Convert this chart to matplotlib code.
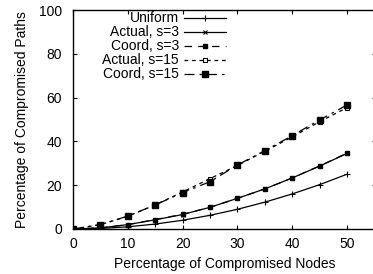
import matplotlib
matplotlib.use('Agg')
import matplotlib.pyplot as plt

plt.rcParams['font.family'] = ['Liberation Sans', 'DejaVu Sans']

nodes = [0, 5, 10, 15, 20, 25, 30, 35, 40, 45, 50]
uniform = [0, 0.25, 1, 2.25, 4, 6.25, 9, 12.25, 16, 20.25, 25]
actual_s3 = [0, 0.5, 2.0, 4.2, 6.6, 9.9, 14.0, 18.3, 23.3, 28.7, 34.5]
coord_s3 = [0, 0.5, 2.0, 4.3, 6.7, 9.9, 14.0, 18.3, 23.3, 28.8, 34.6]
actual_s15 = [0, 2.0, 5.8, 11.0, 16.9, 23.0, 29.0, 35.5, 42.0, 49.0, 55.4]
coord_s15 = [0, 2.0, 5.9, 11.0, 16.6, 21.6, 29.2, 35.8, 42.6, 49.8, 56.6]

fig = plt.figure(figsize=(3.73, 2.74), dpi=100)
ax = fig.add_axes([73 / 373, 45 / 274, 303 / 373, 219 / 274])

ax.plot(nodes, uniform, color='black', lw=0.9, marker='+', ms=4, mew=0.8, label='Uniform')
ax.plot(nodes, actual_s3, color='black', lw=0.9, marker='x', ms=3, mew=0.8, label='Actual, s=3')
ax.plot(nodes, coord_s3, color='black', lw=0.9, dashes=(6, 5), marker='s', ms=2.5, label='Coord, s=3')
ax.plot(nodes, actual_s15, color='black', lw=0.9, dashes=(3, 3), marker='s', ms=3.5,
        mfc='white', mew=0.8, label='Actual, s=15')
ax.plot(nodes, coord_s15, color='black', lw=0.9, dashes=(8, 4, 2, 4), marker='s', ms=4,
        label='Coord, s=15')

ax.set_xlim(0, 55.3)
ax.set_ylim(0, 100)
ax.set_xticks([0, 10, 20, 30, 40, 50])
ax.set_yticks([0, 20, 40, 60, 80, 100])
ax.tick_params(direction='in', top=True, right=True, labelsize=10, length=3, width=0.8)
ax.tick_params(axis='x', pad=6)
ax.tick_params(axis='y', pad=8)
for s in ax.spines.values():
    s.set_linewidth(1.0)
ax.set_xlabel('Percentage of Compromised Nodes', fontsize=10, labelpad=4)
ax.set_ylabel('Percentage of Compromised Paths', fontsize=10, labelpad=7)

ax.legend(loc='upper right', bbox_to_anchor=(0.51, 1.0), frameon=False, markerfirst=False,
          fontsize=10, handlelength=3.0, labelspacing=0.0, borderaxespad=0.0, borderpad=0.1,
          handletextpad=0.4)

fig.savefig('out.png', dpi=100)
